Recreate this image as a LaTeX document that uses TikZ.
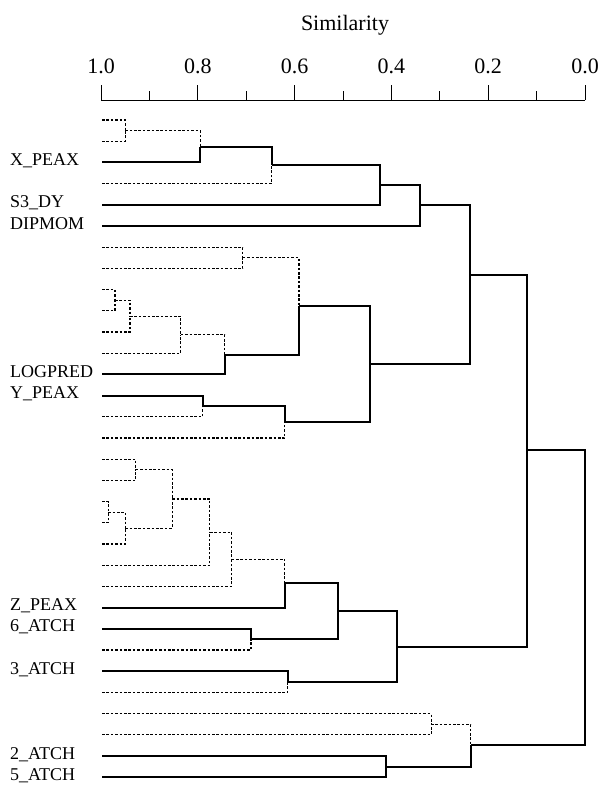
\documentclass[tikz,border=0pt]{standalone}
\usepackage{fontspec}
\setmainfont{Liberation Serif}
\usetikzlibrary{calc}

\tikzstyle{strong link}=[line width=2pt]
\tikzstyle{weak link}=[line width=1.1pt, dash pattern=on 2.6pt off 1.8pt]
\tikzstyle{leaf label}=[anchor=base west, inner sep=0pt, font=\fontsize{18}{18}\selectfont]
\tikzstyle{scale label}=[inner sep=0pt, font=\fontsize{22}{22}\selectfont]

% merge point: name, similarity, first child, second child
\newcommand{\merge}[4]{%
  \path let \p1=(#3), \p2=(#4) in coordinate (#1) at ({(585-484*#2)*1pt},{0.5*(\y1+\y2)});}

\begin{document}
\begin{tikzpicture}[x=1pt,y=-1pt]
\useasboundingbox (0,0) rectangle (599,785);

% similarity scale
\node[scale label] (title) at (345,25) {Similarity};
\draw[line width=1pt] (101,100) coordinate (axl) -- (585,100) coordinate (axr);
\foreach \v [count=\k from 0] in {1.0,0.8,0.6,0.4,0.2,0.0} {
  \draw[line width=1pt] ({101+96.8*\k},100) -- ++(0,-15);
  \node[scale label] (tick\k) at ({101+96.8*\k},66) {\v};
}
\foreach \k in {0,...,4}
  \draw[line width=1pt] ({149.4+96.8*\k},100) -- ++(0,-9);

% leaves and their labels
\foreach \i in {1,...,32}
  \coordinate (l\i) at (102,{120+21.2*(\i-1)});
\foreach \i/\t in {3/X\_PEAX,5/S3\_DY,6/DIPMOM,13/LOGPRED,14/Y\_PEAX,24/Z\_PEAX,25/6\_ATCH,27/3\_ATCH,31/2\_ATCH,32/5\_ATCH}
  \node[leaf label] (lab\i) at (10,{123+21.2*(\i-1)}) {\t};

% upper cluster
\merge{m12}{0.95}{l1}{l2}
\merge{m123}{0.795}{m12}{l3}
\merge{m1234}{0.647}{m123}{l4}
\merge{m5}{0.424}{m1234}{l5}
\merge{m6}{0.341}{m5}{l6}
% middle cluster
\merge{a78}{0.707}{l7}{l8}
\merge{a910}{0.971}{l9}{l10}
\merge{a11}{0.94}{a910}{l11}
\merge{a12}{0.835}{a11}{l12}
\merge{a13}{0.744}{a12}{l13}
\merge{a713}{0.591}{a78}{a13}
\merge{a15}{0.79}{l14}{l15}
\merge{a16}{0.62}{a15}{l16}
\merge{amid}{0.444}{a713}{a16}
\coordinate (atop) at ({585-484*0.238},275);
% lower cluster
\merge{b1718}{0.928}{l17}{l18}
\merge{b1920}{0.985}{l19}{l20}
\merge{b21}{0.95}{b1920}{l21}
\merge{b1721}{0.853}{b1718}{b21}
\merge{b22}{0.775}{b1721}{l22}
\merge{b23}{0.73}{b22}{l23}
\merge{b24}{0.62}{b23}{l24}
\merge{b26}{0.69}{l25}{l26}
\merge{b2426}{0.51}{b24}{b26}
\merge{b28}{0.614}{l27}{l28}
\merge{blow}{0.388}{b2426}{b28}
\coordinate (cnode) at ({585-484*0.12},450);
\merge{b30}{0.318}{l29}{l30}
\merge{b32}{0.411}{l31}{l32}
\merge{btail}{0.236}{b30}{b32}
\merge{root}{0.0}{cnode}{btail}

% branches
\draw[weak link] (l1) -| (m12) (l2) -| (m12) (m12) -| (m123) (l4) -| (m1234)
  (l7) -| (a78) (l8) -| (a78) (l9) -| (a910) (l10) -| (a910) (a910) -| (a11) (l11) -| (a11)
  (a11) -| (a12) (l12) -| (a12) (a12) -| (a13) (a78) -| (a713) (l15) -| (a15) (l16) -| (a16)
  (l17) -| (b1718) (l18) -| (b1718) (l19) -| (b1920) (l20) -| (b1920) (b1920) -| (b21) (l21) -| (b21)
  (b1718) -| (b1721) (b21) -| (b1721) (b1721) -| (b22) (l22) -| (b22) (b22) -| (b23) (l23) -| (b23)
  (b23) -| (b24) (l26) -| (b26) (l28) -| (b28) (l29) -| (b30) (l30) -| (b30) (b30) -| (btail);
\draw[strong link] (l3) -| (m123) (m123) -| (m1234) (m1234) -| (m5) (l5) -| (m5) (m5) -| (m6) (l6) -| (m6)
  (l13) -| (a13) (a13) -| (a713) (l14) -| (a15) (a15) -| (a16) (a713) -| (amid) (a16) -| (amid)
  (m6) -| (atop) (amid) -| (atop)
  (l24) -| (b24) (l25) -| (b26) (b24) -| (b2426) (b26) -| (b2426) (l27) -| (b28)
  (b2426) -| (blow) (b28) -| (blow) (atop) -| (cnode) (blow) -| (cnode)
  (l31) -| (b32) (l32) -| (b32) (b32) -| (btail) (btail) -| (root) (cnode) -| (root);
\end{tikzpicture}
\end{document}
